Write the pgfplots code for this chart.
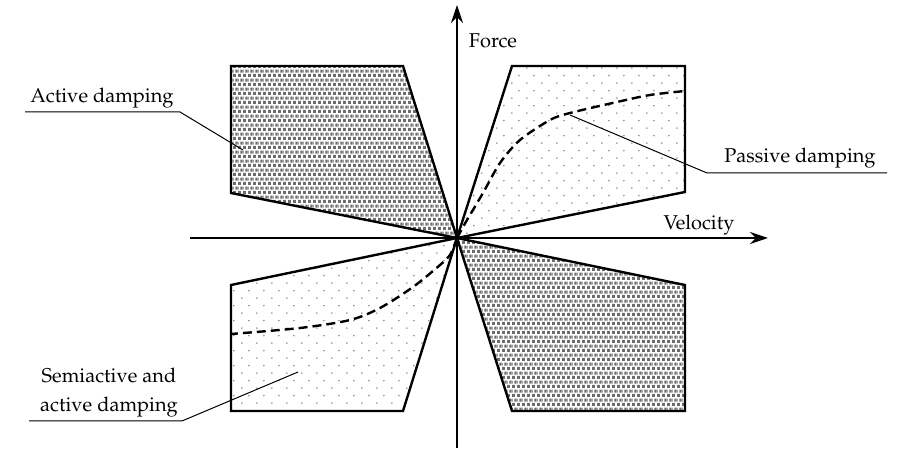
\documentclass[border=0pt]{standalone}
\usepackage[T1]{fontenc}
\usepackage{mathpazo}
\usepackage{pgfplots}
\pgfplotsset{compat=1.18}
\usetikzlibrary{patterns,arrows.meta}

% dense staggered squares (active damping)
\pgfdeclarepatternformonly{densesq}{\pgfpointorigin}{\pgfpoint{2.6pt}{4.4pt}}{\pgfpoint{2.6pt}{4.4pt}}{%
  \pgfpathrectangle{\pgfpoint{0pt}{0pt}}{\pgfpoint{1.6pt}{1.6pt}}%
  \pgfpathrectangle{\pgfpoint{1.3pt}{2.2pt}}{\pgfpoint{1.3pt}{1.6pt}}%
  \pgfpathrectangle{\pgfpoint{0pt}{2.2pt}}{\pgfpoint{0.3pt}{1.6pt}}%
  \pgfusepath{fill}}
% sparse staggered dots (passive / semiactive)
\pgfdeclarepatternformonly{sparsedot}{\pgfpointorigin}{\pgfpoint{7.5pt}{7.7pt}}{\pgfpoint{7.5pt}{7.7pt}}{%
  \pgfpathcircle{\pgfpoint{1pt}{1pt}}{0.45pt}%
  \pgfpathcircle{\pgfpoint{4.75pt}{4.85pt}}{0.45pt}%
  \pgfusepath{fill}}

\definecolor{dotgray}{HTML}{6C6C6C}
\definecolor{lightdot}{HTML}{8C8C8C}

\begin{document}
\begin{tikzpicture}
\begin{axis}[
  width=455.5pt, height=225pt, scale only axis, hide axis, clip=false,
  xmin=-457, xmax=454, ymin=-212, ymax=238,
  every node/.style={font=\fontsize{10.8}{12}\selectfont},
]
% frame the page
\addplot[draw=none, forget plot] coordinates {(-457,-212) (454,238)};

% active damping (quadrants II and IV)
\addplot[pattern=densesq, pattern color=dotgray, draw=black, line width=1.2pt]
  coordinates {(-226,172) (-54,172) (0,0) (-226,45)} -- cycle;
\addplot[pattern=densesq, pattern color=dotgray, draw=black, line width=1.2pt]
  coordinates {(0,0) (228,-47) (228,-173) (55,-173)} -- cycle;
% passive / semiactive (quadrants I and III)
\addplot[pattern=sparsedot, pattern color=lightdot, draw=black, line width=1.2pt]
  coordinates {(55,172) (228,172) (228,46) (0,0)} -- cycle;
\addplot[pattern=sparsedot, pattern color=lightdot, draw=black, line width=1.2pt]
  coordinates {(-226,-47) (0,0) (-54,-173) (-226,-173)} -- cycle;

% passive damping characteristics
\addplot[smooth, dash pattern=on 4.5pt off 2.5pt, line width=1.2pt]
  coordinates {(0,0) (10,18) (26,45) (43,75) (63,98) (93,118) (113,125)
               (160,136) (193,143) (228,147)};
\addplot[smooth, dash pattern=on 4.5pt off 2.5pt, line width=1.2pt]
  coordinates {(0,0) (-7,-17) (-17,-27) (-44,-49) (-77,-70) (-107,-82)
               (-157,-90) (-226,-96)};

% axes
\addplot[line width=1pt, -{Stealth[length=9pt,width=6pt]}]
  coordinates {(-267,0) (311,0)};
\addplot[line width=1pt, -{Stealth[length=9pt,width=6pt]}]
  coordinates {(0,-210) (0,233)};
\node[anchor=base] at (axis cs:36,190) {Force};
\node[anchor=base] at (axis cs:242,8) {Velocity};

% callouts
\addplot[line width=0.5pt] coordinates {(-432,126) (-277,126) (-214,88)};
\node[anchor=base] at (axis cs:-355,135) {Active damping};
\addplot[line width=0.5pt] coordinates {(430,65) (250,65) (113,123)};
\node[anchor=base] at (axis cs:343,75) {Passive damping};
\addplot[line width=0.5pt] coordinates {(-428,-183) (-275,-183) (-159,-134)};
\node[anchor=base] at (axis cs:-348,-145) {Semiactive and};
\node[anchor=base] at (axis cs:-348,-174) {active damping};
\end{axis}
\end{tikzpicture}
\end{document}
